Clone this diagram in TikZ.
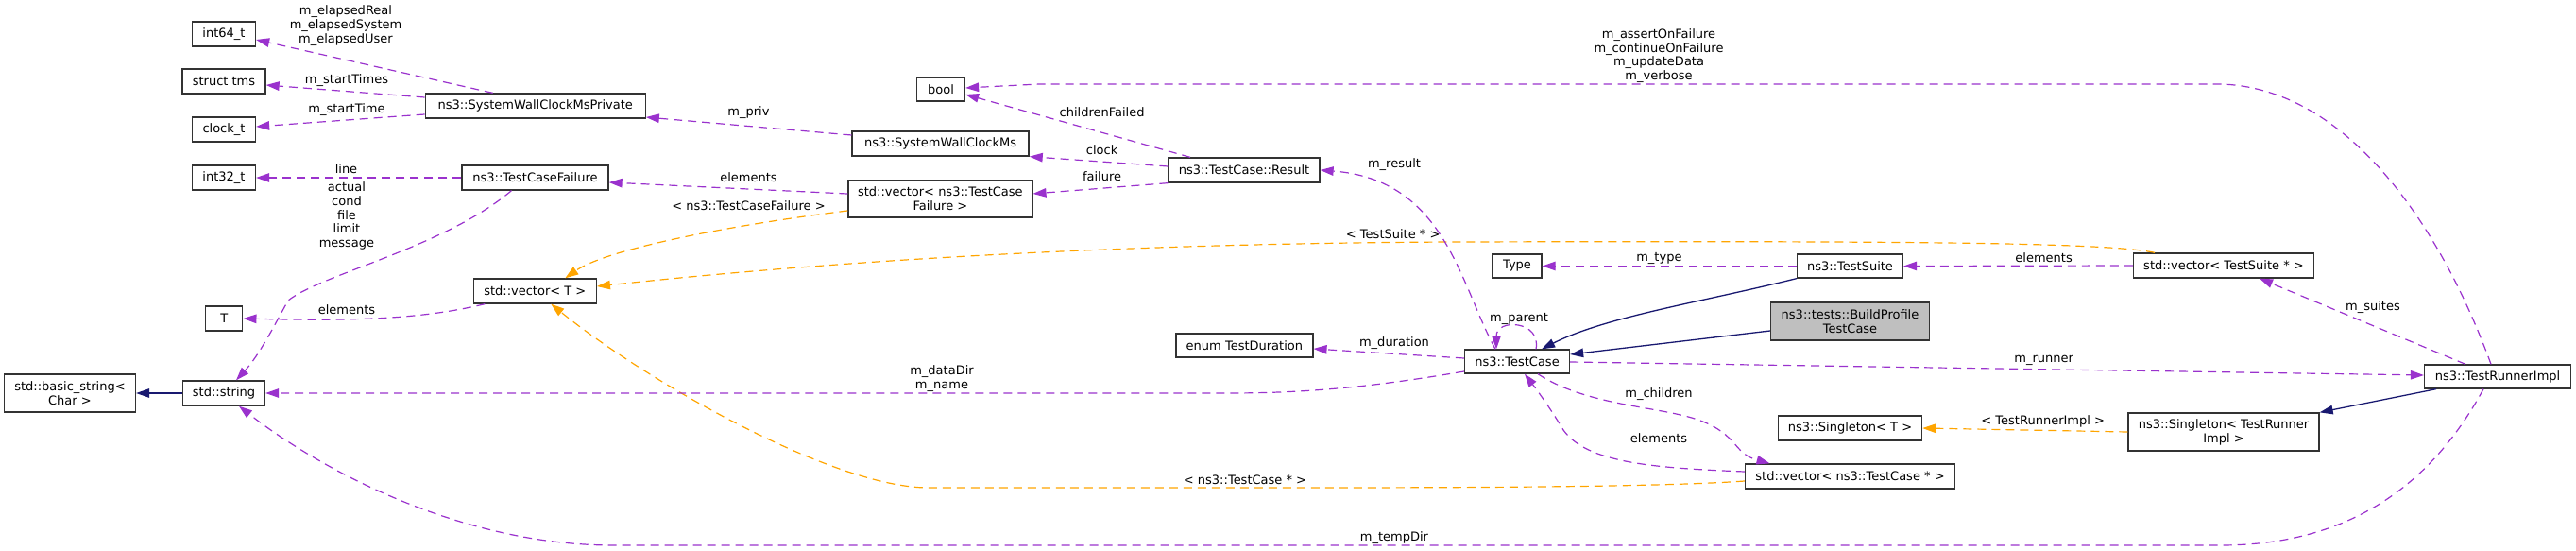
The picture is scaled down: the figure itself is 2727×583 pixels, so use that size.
\documentclass[tikz,border=0pt]{standalone}
\usepackage{fontspec}
\setmainfont{DejaVu Sans}
\usetikzlibrary{arrows.meta}
\definecolor{cpurple}{HTML}{9A32CD}
\definecolor{corange}{HTML}{FFA500}
\definecolor{cnavy}{HTML}{191970}
\definecolor{cgray}{HTML}{BFBFBF}
\begin{document}
\begin{tikzpicture}[x=1pt,y=-1pt,
  box/.style={draw=black!80, line width=1.3pt, fill=white, inner sep=0pt, minimum height=26pt, align=center, font=\fontsize{13}{15}\selectfont, text=black},
  lbl/.style={inner sep=0pt, align=center, font=\fontsize{13}{14.7}\selectfont, text=black},
  tipA/.style={-{Triangle[length=14pt,width=9.5pt]}},
  mem/.style={draw=cpurple, line width=1.2pt, dash pattern=on 9pt off 6pt, tipA},
  tmpl/.style={draw=corange, line width=1.2pt, dash pattern=on 9pt off 6pt, tipA},
  inh/.style={draw=cnavy, line width=1.3pt, tipA}]
\useasboundingbox (0,0) rectangle (2727,583);
% nodes
\node[box, minimum width=67pt] (int64) at (237,36) {int64\_t};
\node[box, minimum width=88pt] (tms) at (237,86) {struct tms};
\node[box, minimum width=67pt] (clockt) at (237,137) {clock\_t};
\node[box, minimum width=67pt] (int32) at (237,188) {int32\_t};
\node[box, minimum width=39pt] (T) at (237.3,337) {T};
\node[box, minimum width=139pt, minimum height=40pt] (bstr) at (74,416) {std::basic\_string<\\Char >};
\node[box, minimum width=87pt] (str) at (237,416) {std::string};
\node[box, minimum width=233pt] (swcmp) at (566.7,112) {ns3::SystemWallClockMsPrivate};
\node[box, minimum width=155pt] (tcf) at (566.5,188) {ns3::TestCaseFailure};
\node[box, minimum width=130pt] (vecT) at (566.3,308) {std::vector< T >};
\node[box, minimum width=51pt, minimum height=25pt] (bool) at (996,94.5) {bool};
\node[box, minimum width=187pt] (swcm) at (995.6,152) {ns3::SystemWallClockMs};
\node[box, minimum width=195pt, minimum height=39pt] (vtcf) at (995.4,210.5) {std::vector< ns3::TestCase\\Failure >};
\node[box, minimum width=160pt] (result) at (1317,180) {ns3::TestCase::Result};
\node[box, minimum width=145pt, minimum height=25pt] (enum) at (1317.4,365.5) {enum TestDuration};
\node[box, minimum width=52pt, minimum height=25pt] (type) at (1606,281.5) {Type};
\node[box, minimum width=112pt, minimum height=25pt] (suite) at (1958.5,281.5) {ns3::TestSuite};
\node[box, minimum width=111pt, minimum height=25pt] (tc) at (1606,382.5) {ns3::TestCase};
\node[box, minimum width=168pt, minimum height=40pt, fill=cgray] (bp) at (1958.5,340) {ns3::tests::BuildProfile\\TestCase};
\node[box, minimum width=152pt] (singT) at (1958.5,453) {ns3::Singleton< T >};
\node[box, minimum width=222pt] (vecTC) at (1958.5,504) {std::vector< ns3::TestCase * >};
\node[box, minimum width=191pt] (vecTS) at (2354,281) {std::vector< TestSuite * >};
\node[box, minimum width=155pt, minimum height=25pt] (tri) at (2644,398.5) {ns3::TestRunnerImpl};
\node[box, minimum width=202pt, minimum height=40pt] (singTR) at (2354,457) {ns3::Singleton< TestRunner\\Impl >};
% labels
\node[lbl] (l1) at (366,27) {m\_elapsedReal\\m\_elapsedSystem\\m\_elapsedUser};
\node[lbl] (l2) at (367,85) {m\_startTimes};
\node[lbl] (l3) at (367,116) {m\_startTime};
\node[lbl] (l4) at (366.5,179) {line};
\node[lbl] (l5) at (367,228.5) {actual\\cond\\file\\limit\\message};
\node[lbl] (l6) at (367,328) {elements};
\node[lbl] (l7) at (792.5,119) {m\_priv};
\node[lbl] (l8) at (1166.6,119) {childrenFailed};
\node[lbl] (l9) at (1166.6,159) {clock};
\node[lbl] (l10) at (1166.6,187) {failure};
\node[lbl] (l11) at (792.5,188) {elements};
\node[lbl] (l12) at (792.5,218) {< ns3::TestCaseFailure >};
\node[lbl] (l13) at (997,400.5) {m\_dataDir\\m\_name};
\node[lbl] (l14) at (1318,508) {< ns3::TestCase * >};
\node[lbl] (l15) at (1756,59) {m\_assertOnFailure\\m\_continueOnFailure\\m\_updateData\\m\_verbose};
\node[lbl] (l16) at (1476,174) {m\_result};
\node[lbl] (l17) at (1474.7,248) {< TestSuite * >};
\node[lbl] (l18) at (1756.4,273) {m\_type};
\node[lbl] (l19) at (1608,337) {m\_parent};
\node[lbl] (l20) at (1476,363) {m\_duration};
\node[lbl] (l21) at (1756,417) {m\_children};
\node[lbl] (l22) at (1756,464) {elements};
\node[lbl] (l23) at (1476,569) {m\_tempDir};
\node[lbl] (l24) at (2163.6,273) {elements};
\node[lbl] (l25) at (2512,325) {m\_suites};
\node[lbl] (l26) at (2163.6,381) {m\_runner};
\node[lbl] (l27) at (2162.7,446) {< TestRunnerImpl >};
% edges
\draw[mem] ([xshift=-45pt]swcmp.north) -- ([yshift=-6pt]int64.east);
\draw[mem] ([yshift=9pt]swcmp.west) -- ([yshift=-4pt]tms.east);
\draw[mem] ([yshift=-9pt]swcmp.west) -- ([yshift=3pt]clockt.east);
\draw[mem] (tcf.west) -- (int32.east);
\draw[mem] ([xshift=-25pt]tcf.south) .. controls (470,262) and (340,290) .. (305,318) .. controls (290,345) and (275,375) .. ([xshift=13pt]str.north);
\draw[mem] ([xshift=-53pt]vecT.south) .. controls (450,337) and (380,340) .. (T.east);
\draw[inh] (str.west) -- (bstr.east);
\draw[mem] ([yshift=9pt]swcm.west) -- ([yshift=-12pt]swcmp.east);
\draw[mem] ([xshift=-57pt]result.north) -- ([yshift=-5.5pt]bool.east);
\draw[mem] ([yshift=4pt]result.west) -- (swcm.south east);
\draw[mem] (result.south west) -- ([yshift=5.5pt]vtcf.east);
\draw[mem] ([yshift=5.5pt]vtcf.west) -- ([yshift=-5pt]tcf.east);
\draw[tmpl] ([yshift=-12.5pt]vtcf.west) .. controls (760,240) and (640,265) .. ([xshift=32pt]vecT.north);
\draw[tmpl] ([xshift=-73pt]vecTS.north) .. controls (2230,256) and (2000,255) .. (1538,256) .. controls (1100,258) and (800,285) .. ([yshift=5pt]vecT.east);
\draw[tmpl] ([yshift=-5pt]vecTC.west) .. controls (1750,516) and (1500,516) .. (1350,516) -- (983,516) .. controls (880,516) and (680,400) .. ([xshift=17pt]vecT.south);
\draw[mem] ([xshift=-23pt]tc.north) .. controls (1545,300) and (1530,190) .. (result.east);
\draw[mem] ([xshift=20pt]tc.north) .. controls +(6,-30) and +(0,-33) .. ([xshift=-22pt]tc.north);
\draw[mem] ([yshift=3.5pt]tc.west) -- ([yshift=-3.5pt]enum.east);
\draw[mem] ([yshift=-10.5pt]tc.west) .. controls (1450,410) and (1380,416) .. (1300,416) -- (str.east);
\draw[mem] ([xshift=22pt]tc.south) .. controls (1680,430) and (1760,430) .. (1800,445) .. controls (1840,460) and (1835,480) .. ([xshift=-85pt]vecTC.north);
\draw[mem] ([yshift=5pt]vecTC.west) .. controls (1750,495) and (1680,490) .. (1655,455) .. controls (1640,430) and (1625,410) .. ([xshift=8pt]tc.south);
\draw[mem] ([yshift=-0.5pt]tc.east) -- ([yshift=1.5pt]tri.west);
\draw[inh] (suite.south west) .. controls (1800,320) and (1700,335) .. ([xshift=26pt]tc.north);
\draw[inh] ([yshift=-10pt]bp.west) -- ([yshift=7.5pt]tc.east);
\draw[mem] (suite.west) -- (type.east);
\draw[mem] (vecTS.west) -- (suite.east);
\draw[mem] ([xshift=-34pt]tri.north) -- ([xshift=38pt]vecTS.south);
\draw[mem] ([xshift=-7pt]tri.north) .. controls (2580,230) and (2480,92) .. (2350,89) -- (1100,89) -- ([yshift=1.5pt]bool.east);
\draw[inh] ([xshift=-65pt]tri.south) -- (singTR.north east);
\draw[tmpl] (singTR.west) -- (singT.east);
\draw[mem] ([xshift=-15pt]tri.south) .. controls (2570,520) and (2480,577) .. (2350,577) -- (650,577) .. controls (480,577) and (330,490) .. ([xshift=16pt]str.south);
\end{tikzpicture}
\end{document}
